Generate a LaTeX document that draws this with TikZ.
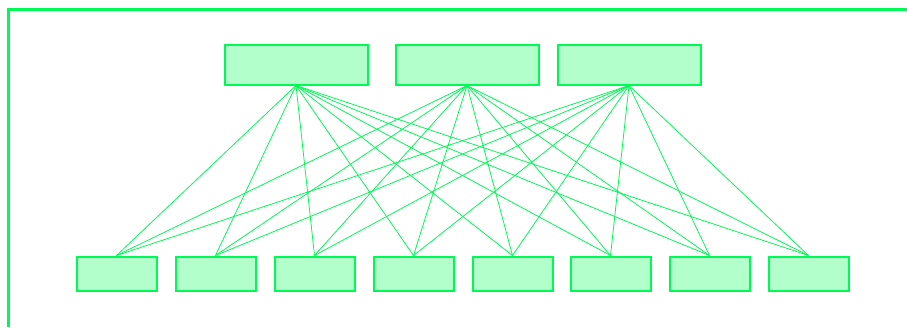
\documentclass[tikz,border=0pt]{standalone}
\usepackage{tikz}
\definecolor{edgegreen}{HTML}{00FA55}
\definecolor{boxgreen}{HTML}{B3FFCC}

\begin{document}
\begin{tikzpicture}[x=1pt,y=-1pt,
  unit/.style={draw=edgegreen,fill=boxgreen,line width=2pt,inner sep=0pt},
  upper/.style={unit,minimum width=143pt,minimum height=40pt},
  lower/.style={unit,minimum width=80pt,minimum height=34pt},
  link/.style={edgegreen,line width=0.8pt}]
  \useasboundingbox (0,0) rectangle (907,327);

  % frame along the left and top
  \draw[edgegreen,line width=3pt] (8,327) -- (8,9) -- (907,9);

  % upper row
  \node[upper] (t1) at (296,64.5) {};
  \node[upper] (t2) at (467,64.5) {};
  \node[upper] (t3) at (629,64.5) {};

  % lower row
  \foreach \i/\x in {1/116.5,2/215.5,3/314.5,4/413.5,5/512.5,6/610.5,7/709.5,8/808.5}
    \node[lower] (b\i) at (\x,273.5) {};

  % every upper box to every lower box
  \foreach \t in {1,2,3}
    \foreach \b in {1,...,8}
      \draw[link] (t\t.south) -- (b\b.north);
\end{tikzpicture}
\end{document}
